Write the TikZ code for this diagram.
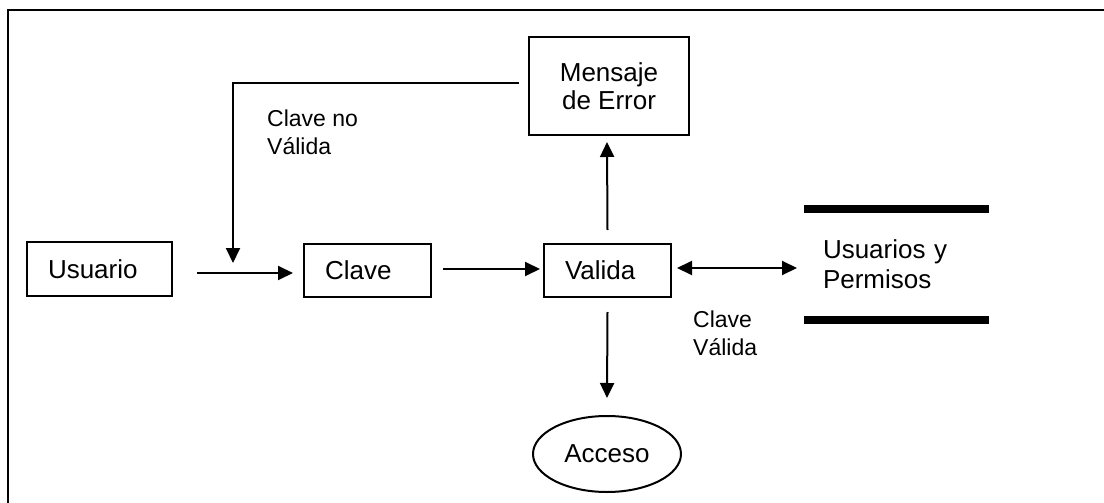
\documentclass[tikz,border=0pt]{standalone}
\usepackage{fontspec}
\setmainfont{Liberation Sans}
\usetikzlibrary{arrows.meta,shapes.geometric}
\tikzset{
  boxed/.style={draw, line width=2pt, inner sep=0pt, outer sep=0pt, font=\fontsize{26}{30}\selectfont},
  leftbox/.style={boxed, align=left, inner xsep=21pt, text width=#1},
  lbl/.style={font=\fontsize{23}{28}\selectfont, align=left, inner sep=0pt, anchor=north west},
  arr/.style={line width=2pt, -{Triangle[length=15pt,width=14pt]}},
  darr/.style={line width=2pt, {Triangle[length=15pt,width=14pt]}-{Triangle[length=15pt,width=14pt]}},
}
\begin{document}
\begin{tikzpicture}[x=1pt,y=-1pt]
\useasboundingbox (0,0) rectangle (1104,503);
\draw[line width=2pt] (1104,10) -- (8,10) -- (8,503);

\node[leftbox=103pt, minimum width=145pt, minimum height=54pt] (usuario) at (99.5,269) {Usuario};
\node[leftbox=85pt, minimum width=127pt, minimum height=53pt] (clave) at (367.5,270.5) {Clave};
\node[leftbox=85pt, minimum width=127pt, minimum height=53pt] (valida) at (607.5,270.5) {Valida};
\node[boxed, align=center, minimum width=160pt, minimum height=98pt] (mensaje) at (609,86) {Mensaje\\[-2pt]de Error};
\node[boxed, ellipse, minimum width=148pt, minimum height=76pt] (acceso) at (607,454) {Acceso};
\node[font=\fontsize{26}{30}\selectfont, align=left, inner sep=0pt, inner xsep=19pt, outer sep=0pt,
      text width=147pt, minimum width=185pt, minimum height=111pt] (store) at (896.5,264.5) {Usuarios y\\Permisos};
\draw[line width=8pt] (store.north west) -- (store.north east);
\draw[line width=8pt] (store.south west) -- (store.south east);

\node[lbl] (lnv) at (267,110) {Clave no\\Válida};
\node[lbl] (lv) at (693,311) {Clave\\Válida};

\coordinate (fb) at (233,263);
\draw[arr] ([xshift=25pt,yshift=-4pt]usuario.east) -- ([xshift=-11pt,yshift=-2.5pt]clave.west);
\draw[arr] ([xshift=12pt,yshift=1.5pt]clave.east) -- ([xshift=-4pt,yshift=1.5pt]valida.west);
\draw[arr] ([yshift=14pt]valida.north) -- ([yshift=-7pt,xshift=-2pt]mensaje.south);
\draw[arr] ([yshift=-15pt]valida.south) -- ([yshift=18pt]acceso.north);
\draw[darr] ([xshift=6pt,yshift=2.5pt]valida.east) -- ([xshift=-7pt,yshift=-3.5pt]store.west);
\draw[arr] ([xshift=-10pt,yshift=3pt]mensaje.west) -| (fb);
\end{tikzpicture}
\end{document}
